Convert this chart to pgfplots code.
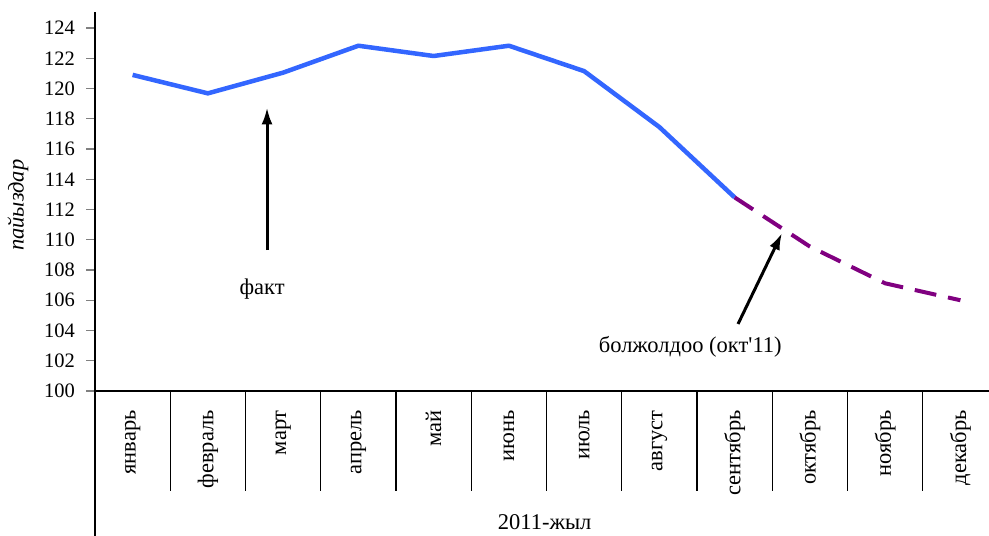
\documentclass[border=0pt]{standalone}
\usepackage{fontspec}
\setmainfont{Liberation Serif}
\usepackage{pgfplots}
\pgfplotsset{compat=1.18}
\usetikzlibrary{arrows.meta}
\definecolor{factblue}{RGB}{51,102,255}
\definecolor{fcpurple}{RGB}{128,0,128}
\newcommand{\txt}{\fontsize{22.5bp}{27bp}\selectfont}
\begin{document}
\begin{tikzpicture}
\useasboundingbox (-95bp,-145bp) rectangle (894bp,391bp);
\begin{axis}[
  at={(0,0)}, anchor=south west,
  scale only axis, width=894bp, height=379bp,
  xmin=-0.5, xmax=11.38, ymin=100, ymax=125.06,
  axis lines=left,
  axis line style={-, line width=1.3bp},
  clip=false,
  font=\txt,
  /pgf/number format/assume math mode=true,
  ytick={100,102,...,124},
  tick align=outside,
  major tick length=9bp,
  ytick style={line width=1.3bp},
  yticklabel style={anchor=east, inner sep=0pt, xshift=-11bp, font=\fontsize{20.5bp}{24bp}\selectfont},
  xtick={0,...,11},
  xticklabels={январь,февраль,март,апрель,май,июнь,июль,август,сентябрь,октябрь,ноябрь,декабрь},
  xtick style={draw=none},
  xticklabel style={yshift=-10bp, rotate=90, anchor=east, inner sep=0pt},
  ylabel={\itshape пайыздар},
  ylabel style={at={(axis description cs:-0.0861,0.49)}, anchor=center},
  xlabel={2011-жыл},
  xlabel style={at={(axis description cs:0.503,-0.3456)}, anchor=center},
]
\addplot[color=factblue, line width=4.5bp, line join=round] coordinates {
  (0,120.9) (1,119.68) (2,121.05) (3,122.83) (4,122.15) (5,122.83) (6,121.15) (7,117.45) (8,112.8)
};
\addplot[color=fcpurple, line width=4bp, dash pattern=on 22bp off 12bp] coordinates {
  (8,112.8) (9,109.55) (10,107.12) (11,106.0)
};
\draw[line width=1.3bp] (axis cs:-0.5,100) -- ([yshift=-145bp]axis cs:-0.5,100);
\draw[line width=1.3bp] (axis cs:0.5,100) -- ([yshift=-100bp]axis cs:0.5,100);
\draw[line width=1.3bp] (axis cs:1.5,100) -- ([yshift=-100bp]axis cs:1.5,100);
\draw[line width=1.3bp] (axis cs:2.5,100) -- ([yshift=-100bp]axis cs:2.5,100);
\draw[line width=1.3bp] (axis cs:3.5,100) -- ([yshift=-100bp]axis cs:3.5,100);
\draw[line width=1.3bp] (axis cs:4.5,100) -- ([yshift=-100bp]axis cs:4.5,100);
\draw[line width=1.3bp] (axis cs:5.5,100) -- ([yshift=-100bp]axis cs:5.5,100);
\draw[line width=1.3bp] (axis cs:6.5,100) -- ([yshift=-100bp]axis cs:6.5,100);
\draw[line width=1.3bp] (axis cs:7.5,100) -- ([yshift=-100bp]axis cs:7.5,100);
\draw[line width=1.3bp] (axis cs:8.5,100) -- ([yshift=-100bp]axis cs:8.5,100);
\draw[line width=1.3bp] (axis cs:9.5,100) -- ([yshift=-100bp]axis cs:9.5,100);
\draw[line width=1.3bp] (axis cs:10.5,100) -- ([yshift=-100bp]axis cs:10.5,100);
\draw[line width=3bp, -{Latex[length=17bp, width=11bp]}] (axis cs:1.786,109.32) -- (axis cs:1.786,118.75);
\draw[line width=3bp, -{Latex[length=17bp, width=11bp]}] (axis cs:8.045,104.43) -- (axis cs:8.63,110.45);
\node[font=\txt] at (axis cs:1.72,106.74) {факт};
\node[font=\txt] at (axis cs:7.41,102.9) {болжолдоо (окт\textquotesingle 11)};
\end{axis}
\end{tikzpicture}
\end{document}
